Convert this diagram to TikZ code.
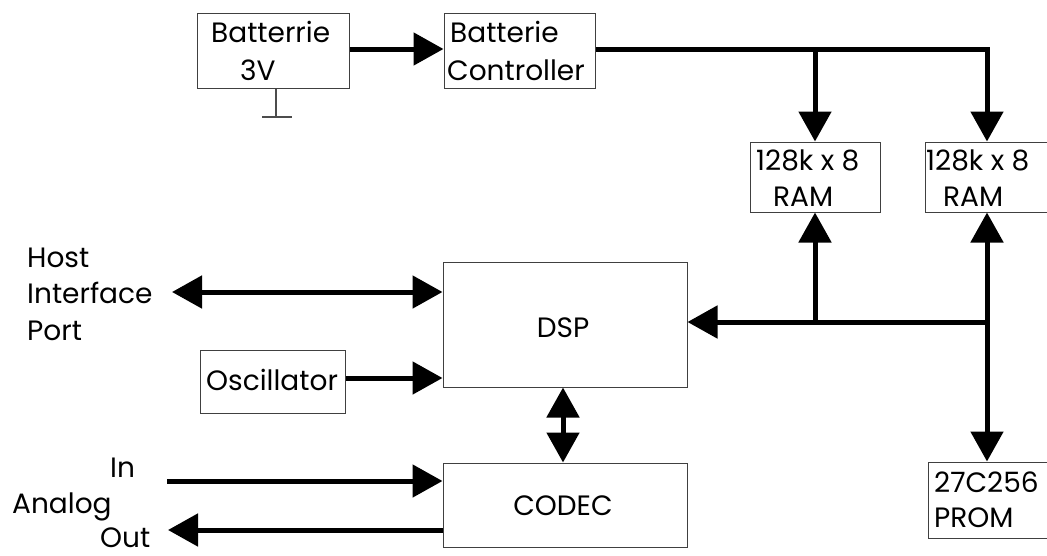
\documentclass[tikz,border=0pt]{standalone}
\usepackage{fontspec}
\setmainfont{Poppins}
\usetikzlibrary{arrows.meta}
\begin{document}
\begin{tikzpicture}[x=1pt,y=-1pt,
  box/.style={draw=black!75,line width=1pt,inner sep=0pt,fill=white},
  txt/.style={anchor=base west,inner sep=0pt,font=\fontsize{28}{32}\selectfont},
  ctxt/.style={anchor=base,inner sep=0pt,font=\fontsize{28}{32}\selectfont},
  bus/.style={line width=5pt,line join=miter},
  tip/.style={-{Triangle[length=30pt,width=32pt]}},
  tips/.style={{Triangle[length=30pt,width=32pt]}-{Triangle[length=30pt,width=32pt]}},
]
\path[use as bounding box,clip] (0,0) rectangle (1047,555);
% boxes
\node[box,minimum width=152pt,minimum height=75pt] (bat) at (273,50.5) {};
\node[box,minimum width=151pt,minimum height=75pt] (ctrl) at (519.5,50.5) {};
\node[box,minimum width=130pt,minimum height=70pt] (ram1) at (815,177) {};
\node[box,minimum width=124pt,minimum height=70pt] (ram2) at (987,177) {};
\node[box,minimum width=244pt,minimum height=125pt] (dsp) at (565,324.5) {};
\node[box,minimum width=145pt,minimum height=63pt] (osc) at (272.5,381.5) {};
\node[box,minimum width=244pt,minimum height=84pt] (codec) at (565,505) {};
\node[box,minimum width=122pt,minimum height=76pt] (prom) at (989,500) {};
% texts
\node[txt] (tbat1) at (211,42) {Batterrie};
\node[txt] (tbat2) at (240,80) {3V};
\node[txt] (tctl1) at (450,42) {Batterie};
\node[txt] (tctl2) at (447,80) {Controller};
\node[txt] (tr1a) at (756,170) {128k x 8};
\node[txt] (tr1b) at (773,206) {RAM};
\node[txt] (tr2a) at (926,170) {128k x 8};
\node[txt] (tr2b) at (943,206) {RAM};
\node[txt] (tp1) at (934,492) {27C256};
\node[txt] (tp2) at (934,527) {PROM};
\node[ctxt] (tdsp) at (563,337) {DSP};
\node[ctxt] (tcod) at (563,515) {CODEC};
\node[txt] (tosc) at (206,390) {Oscillator};
\node[txt] (th1) at (27,267) {Host};
\node[txt] (th2) at (27,303) {Interface};
\node[txt] (th3) at (27,340) {Port};
\node[txt] (tin) at (110,477) {In};
\node[txt] (tan) at (12,513) {Analog};
\node[txt] (tout) at (100,547) {Out};
% ground
\coordinate (g0) at (276,88);
\coordinate (g1) at (276,117);
\coordinate (gl) at (262,117);
\coordinate (gr) at (292,117);
\draw[black!70,line width=1.2pt] (bat.south -| g0) -- (g1) (gl) -- (gr);
% connectors
\coordinate (t1) at (815,49);
\coordinate (t2) at (987,49);
\coordinate (j1) at (815,322);
\coordinate (j2) at (987,322);
\coordinate (hp) at (172,292);
\coordinate (ain) at (167,481);
\coordinate (aout) at (168,530);
\draw[bus,tip] (bat.east |- t1) -- (ctrl.west |- t1);
\draw[bus,tip] (ctrl.east |- t1) -- (t2) -- (t2 |- ram2.north);
\draw[bus,tip] (t1) -- (t1 |- ram1.north);
\draw[bus,tip] (j2) -- (j2 -| dsp.east);
\draw[bus,tip] (j1) -- (j1 |- ram1.south);
\draw[bus,tip] (j2) -- (j2 |- ram2.south);
\draw[bus,tip] (j2) -- (j2 |- prom.north);
\draw[bus,tips] (hp) -- (hp -| dsp.west);
\draw[bus,tip] (osc.east |- 0,378) -- (dsp.west |- 0,378);
\draw[bus,tips] (dsp.south -| tdsp) -- (codec.north -| tdsp);
\draw[bus,tip] (ain) -- (ain -| codec.west);
\draw[bus,tip] (aout -| codec.west) -- (aout);
\end{tikzpicture}
\end{document}
